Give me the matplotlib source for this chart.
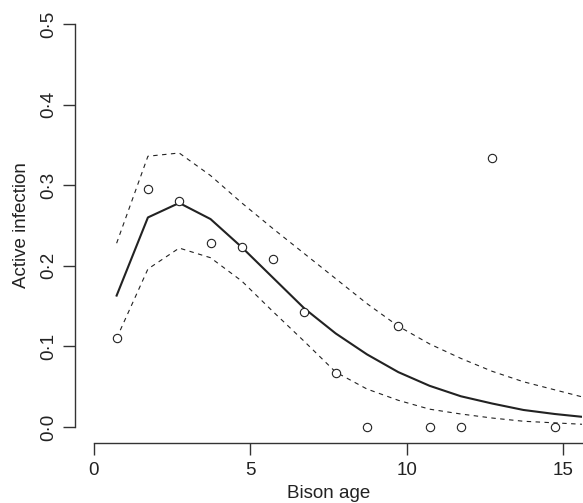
import numpy as np
import matplotlib
matplotlib.use('Agg')
import matplotlib.pyplot as plt

plt.rcParams['font.family'] = ['Liberation Sans', 'DejaVu Sans']

# edad de los bisontes (posicion de los puntos y de las curvas)
edad = [0.73, 1.73, 2.73, 3.73, 4.73, 5.73, 6.73, 7.73, 8.73, 9.73,
        10.73, 11.73, 12.73, 13.73, 14.73, 15.73]

# proporcion observada (no hay dato en 13.73 ni 15.73)
edad_obs = [0.73, 1.73, 2.73, 3.73, 4.73, 5.73, 6.73, 7.73, 8.73, 9.73,
            10.73, 11.73, 12.73, 14.73]
observado = [0.110, 0.295, 0.281, 0.228, 0.223, 0.209, 0.143, 0.067, 0.0,
             0.125, 0.0, 0.0, 0.334, 0.0]

# ajuste del modelo y banda
media = [0.163, 0.260, 0.278, 0.258, 0.223, 0.185, 0.147, 0.116, 0.090,
         0.068, 0.051, 0.038, 0.029, 0.021, 0.016, 0.012]
superior = [0.228, 0.336, 0.340, 0.312, 0.278, 0.246, 0.215, 0.184, 0.153,
            0.125, 0.103, 0.085, 0.069, 0.056, 0.046, 0.036]
inferior = [0.110, 0.196, 0.222, 0.210, 0.181, 0.143, 0.106, 0.068, 0.047,
            0.033, 0.022, 0.016, 0.011, 0.007, 0.005, 0.003]

xticks = [0, 5, 10, 15]
yticks = [0.0, 0.1, 0.2, 0.3, 0.4, 0.5]
ytick_labels = ['0\u00b70', '0\u00b71', '0\u00b72', '0\u00b73', '0\u00b74', '0\u00b75']

W, H = 583, 503
fig = plt.figure(figsize=(W / 100, H / 100), dpi=100)
ax = fig.add_axes([75 / W, (H - 443) / H, (582 - 75) / W, (443 - 8) / H])

col = '#222222'
ax.plot(edad, media, color=col, lw=1.5)
ax.plot(edad, superior, color=col, lw=0.8, linestyle=(0, (4, 4)))
ax.plot(edad, inferior, color=col, lw=0.8, linestyle=(0, (4, 4)))
ax.plot(edad_obs, observado, 'o', mfc='white', mec=col, mew=0.8, ms=6)

ax.set_xlim(-0.6, 15.6)
ax.set_ylim(-0.02, 0.52)

for s in ['top', 'right']:
    ax.spines[s].set_visible(False)
ax.spines['left'].set_bounds(0, 0.5)
ax.spines['bottom'].set_bounds(0, 15.6)
for s in ['left', 'bottom']:
    ax.spines[s].set_color('#333333')
    ax.spines[s].set_linewidth(1.0)

ax.set_xticks(xticks)
ax.set_yticks(yticks)
ax.set_yticklabels(ytick_labels, rotation=90, va='center')
ax.tick_params(direction='out', length=8.5, width=1.0, color='#333333',
               labelsize=13.5, labelcolor='#222222')
ax.tick_params(axis='x', pad=5)
ax.tick_params(axis='y', pad=4)

fig.text(22 / W, 0.5 * ((H - 443) / H + (H - 8) / H) , 'Active infection',
         rotation=90, ha='center', va='center', fontsize=13.5, color='#222222')
fig.text(328.5 / W, (H - 493) / H, 'Bison age', ha='center', va='center',
         fontsize=13.5, color='#222222')

fig.savefig('out.png', dpi=100)
